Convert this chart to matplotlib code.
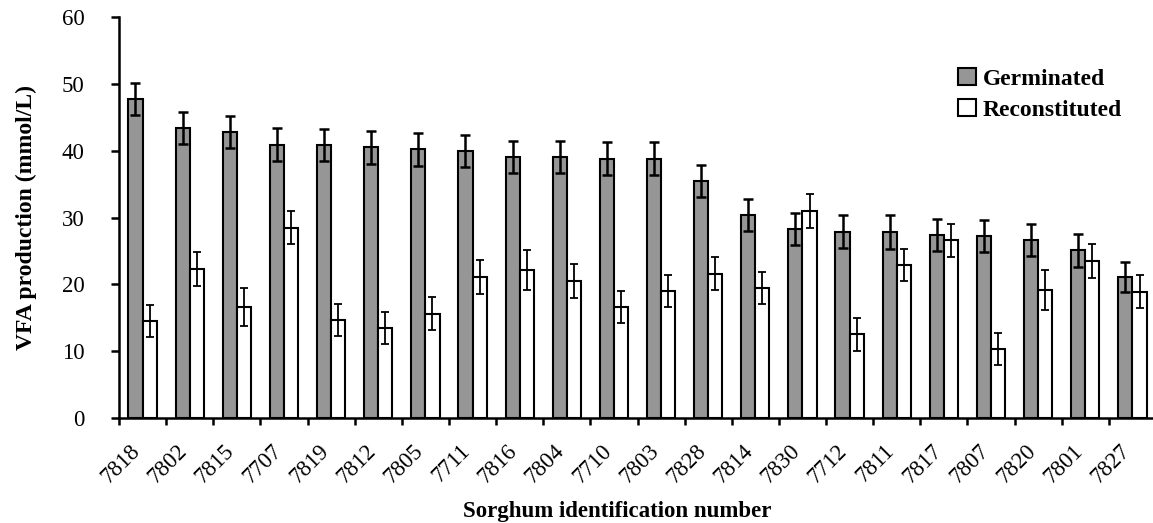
import numpy as np
import matplotlib
matplotlib.use("Agg")
import matplotlib.pyplot as plt
from matplotlib.transforms import ScaledTranslation

plt.rcParams['font.family'] = ['Liberation Serif', 'DejaVu Serif']

sorghum_ids = ['7818', '7802', '7815', '7707', '7819', '7812', '7805', '7711',
               '7816', '7804', '7710', '7803', '7828', '7814', '7830', '7712',
               '7811', '7817', '7807', '7820', '7801', '7827']
germinated = [47.7, 43.4, 42.8, 40.9, 40.9, 40.5, 40.2, 40.0, 39.1, 39.1, 38.8,
              38.8, 35.5, 30.4, 28.3, 27.9, 27.8, 27.4, 27.3, 26.6, 25.1, 21.1]
germinated_err = [2.4, 2.4, 2.4, 2.5, 2.4, 2.5, 2.5, 2.4, 2.4, 2.4, 2.5,
                  2.5, 2.4, 2.4, 2.4, 2.5, 2.5, 2.4, 2.4, 2.4, 2.5, 2.3]
reconstituted = [14.5, 22.3, 16.6, 28.5, 14.7, 13.4, 15.6, 21.1, 22.2, 20.5, 16.6,
                 19.0, 21.6, 19.5, 31.0, 12.5, 22.9, 26.6, 10.3, 19.2, 23.5, 18.9]
reconstituted_err = [2.4, 2.5, 2.9, 2.4, 2.4, 2.4, 2.5, 2.5, 3.0, 2.5, 2.4,
                     2.4, 2.5, 2.4, 2.5, 2.5, 2.4, 2.5, 2.4, 3.0, 2.5, 2.5]

W, H = 1153, 523
fig = plt.figure(figsize=(W / 100, H / 100), dpi=100)
ax = fig.add_axes([119 / W, (H - 418) / H, 1037 / W, 401 / H])

x = np.arange(len(sorghum_ids)) + 0.5
bw = 0.3
ax.bar(x - bw / 2, germinated, bw, color='#969696', edgecolor='black', linewidth=1.5,
       label='Germinated', zorder=2)
ax.bar(x + bw / 2, reconstituted, bw, color='white', edgecolor='black', linewidth=1.5,
       label='Reconstituted', zorder=2)
ax.errorbar(x - bw / 2, germinated, yerr=germinated_err, fmt='none', ecolor='black',
            elinewidth=1.8, capsize=3.6, capthick=1.8, zorder=3)
ax.errorbar(x + bw / 2, reconstituted, yerr=reconstituted_err, fmt='none', ecolor='black',
            elinewidth=1.3, capsize=3.2, capthick=1.3, zorder=3)

ax.set_xlim(0, len(sorghum_ids))
ax.set_ylim(0, 60)
ax.set_yticks(np.arange(0, 61, 10))

# tick marks between categories, labels at the centres
ax.set_xticks(np.arange(0, len(sorghum_ids) + 1))
ax.set_xticklabels([])
ax.set_xticks(x, minor=True)
ax.set_xticklabels(sorghum_ids, minor=True, rotation=45, ha='right', va='top',
                   rotation_mode='anchor', fontsize=16.5)
ax.tick_params(axis='x', which='major', direction='out', length=5, width=1.8)
ax.tick_params(axis='x', which='minor', length=0, pad=16)
ax.tick_params(axis='y', direction='out', length=6, width=1.8, pad=19, labelsize=16.5)
shift = ScaledTranslation(-13 / 100, 0, fig.dpi_scale_trans)
for lab in ax.get_xticklabels(minor=True):
    lab.set_transform(lab.get_transform() + shift)

for s in ['top', 'right']:
    ax.spines[s].set_visible(False)
for s in ['left', 'bottom']:
    ax.spines[s].set_linewidth(1.8)

ax.set_ylabel('VFA production (mmol/L)', fontsize=17, fontweight='bold')
ax.yaxis.set_label_coords(-82 / 1037, 0.5)
fig.text(617 / W, (H - 511) / H, 'Sorghum identification number', fontsize=16.5,
         fontweight='bold', ha='center', va='center')

ax.legend(loc='upper left', bbox_to_anchor=(958 / W, (H - 68) / H),
          bbox_transform=fig.transFigure, frameon=False,
          prop={'weight': 'bold', 'size': 17}, handlelength=0.75, handleheight=0.75,
          handletextpad=0.3, labelspacing=0.38, borderpad=0, borderaxespad=0)

fig.savefig('out.png', dpi=100)
